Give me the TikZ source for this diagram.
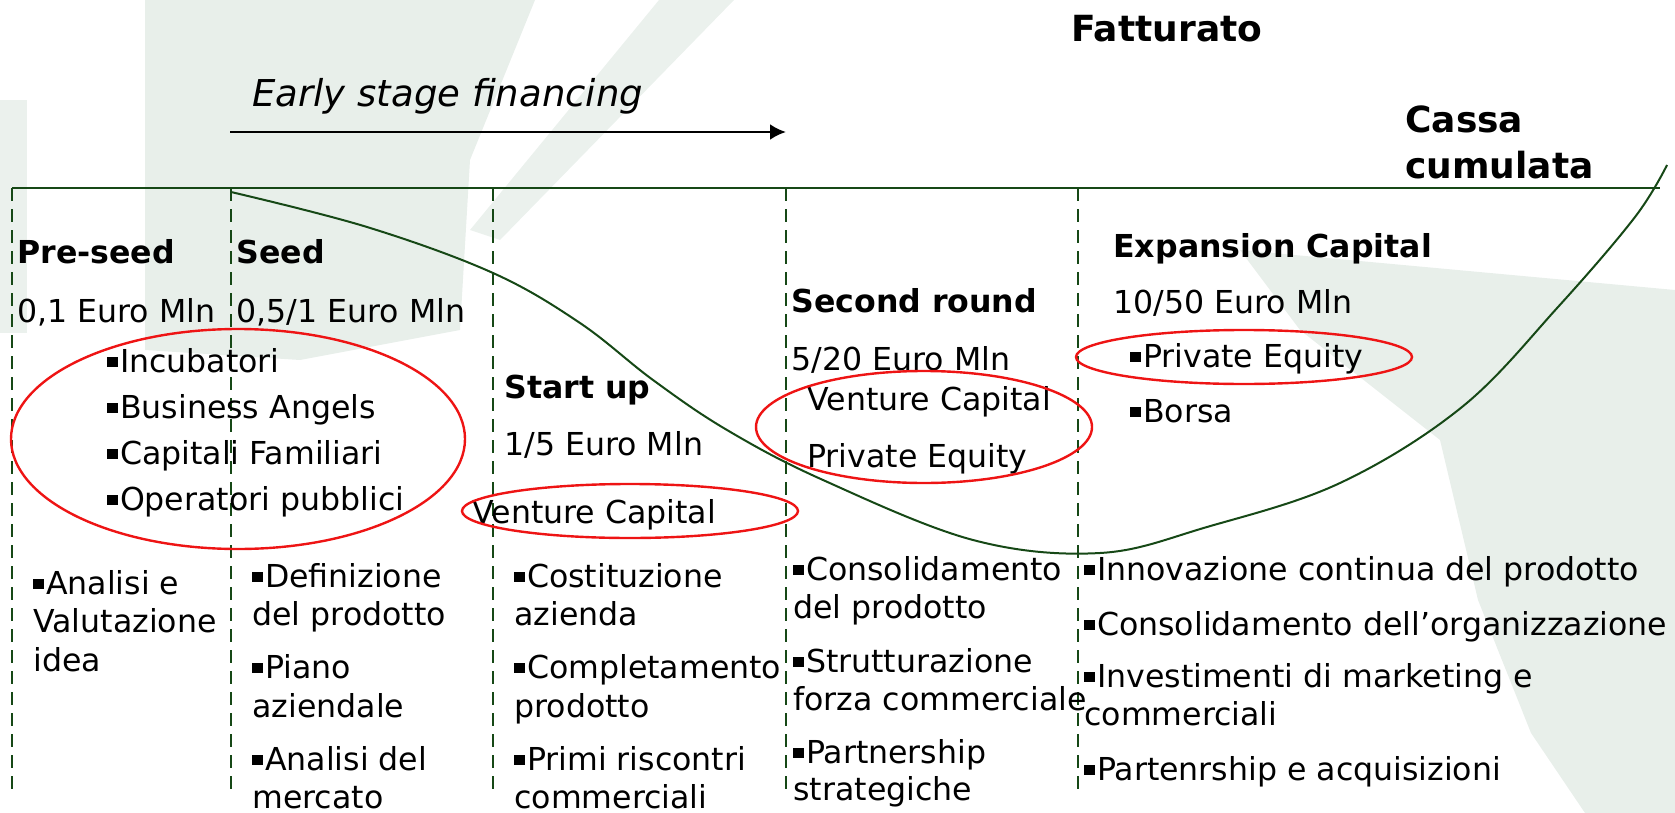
\documentclass[tikz,border=0pt]{standalone}
\usepackage{fontspec}
\setmainfont{DejaVu Sans}
\usepackage{tikz}
\usetikzlibrary{positioning}
\usetikzlibrary{arrows.meta}
\usepackage{xcolor}

\definecolor{cashgreen}{RGB}{22,72,22}
\definecolor{ovalred}{RGB}{238,20,20}
\definecolor{haze}{RGB}{198,214,203}

\newcommand{\sqbul}{\rule[0.16em]{0.32em}{0.32em}\hspace{0.08em}}

\tikzset{
  txt/.style={anchor=base west, inner sep=0pt, font=\fontsize{15.8}{19}\selectfont},
  head/.style={txt, font=\fontsize{15.8}{19}\selectfont\bfseries},
  title/.style={txt, font=\fontsize{18}{22}\selectfont\bfseries},
  oval/.style={draw=ovalred, line width=1.2pt},
  divider/.style={draw=cashgreen, line width=0.9pt, dash pattern=on 6.5pt off 4pt},
}

\begin{document}
\begin{tikzpicture}[x=0.5pt, y=-0.5pt]
  \useasboundingbox (0,0) rectangle (1675,813);

  % faded backdrop
  \fill[haze, opacity=0.4] (145,0) -- (535,0) -- (470,160) -- (460,330) -- (300,360) -- (145,350) -- cycle;
  \fill[haze, opacity=0.35] (659,0) -- (734,0) -- (500,240) -- (470,230) -- cycle;
  \fill[haze, opacity=0.35] (0,100) -- (27,100) -- (27,333) -- (0,333) -- cycle;
  \fill[haze, opacity=0.4] (1240,250) -- (1675,290) -- (1675,813) -- (1585,813) -- (1531,733)
    -- (1478,600) -- (1440,440) -- (1300,330) -- cycle;

  % axis and stage dividers
  \draw[cashgreen, line width=1.4pt] (12,188) -- (1660,188);
  \foreach \x in {12,231,493,786,1078}
    \draw[divider] (\x,188) -- (\x,793);

  % cumulated cash
  \draw[cashgreen, line width=1pt] plot[smooth, tension=0.6] coordinates {
    (231,192) (367,227) (493,273) (580,323) (653,380) (727,430) (823,480)
    (973,540) (1100,553) (1207,527) (1340,483) (1462,407) (1558,307)
    (1635,217) (1667,165)};

  % titles
  \node[title] (fatturato) at (1071,42) {Fatturato};
  \node[title] (cassa) at (1405,133) {Cassa};
  \node[title] (cumulata) at (1405,178) {cumulata};

  % early stage arrow
  \node[txt, font=\fontsize{18.5}{22}\selectfont\itshape] (early) at (252,107) {Early stage financing};
  \coordinate (earlyA) at (230,132);
  \coordinate (earlyB) at (786,132);
  \draw[-{Latex[length=8pt,width=8pt]}, line width=1.4pt] (earlyA) -- (earlyB);

  % stages and amounts
  \node[head] (preseed) at (17,263) {Pre-seed};
  \node[txt] (preamt) at (17,322) {0,1 Euro Mln};
  \node[head] (seed) at (236,263) {Seed};
  \node[txt] (seedamt) at (236,322) {0,5/1 Euro Mln};
  \node[head] (startup) at (504,398) {Start up};
  \node[txt] (startamt) at (504,455) {1/5 Euro Mln};
  \node[head] (second) at (791,312) {Second round};
  \node[txt] (secondamt) at (791,370) {5/20 Euro Mln};
  \node[head] (expansion) at (1113,257) {Expansion Capital};
  \node[txt] (expamt) at (1113,313) {10/50 Euro Mln};

  % investors
  \foreach \y/\txt [count=\i] in {372/Incubatori, 418/Business Angels, 464/Capitali Familiari, 510/Operatori pubblici}
    \node[txt] (inv-\i) at (107,\y) {\sqbul\txt};
  \node[txt] (vcstart) at (472,523) {Venture Capital};
  \node[txt] (vcsecond) at (807,410) {Venture Capital};
  \node[txt] (pesecond) at (807,467) {Private Equity};
  \node[txt] (peexp) at (1130,367) {\sqbul Private Equity};
  \node[txt] (borsa) at (1130,422) {\sqbul Borsa};

  \draw[oval] (238,439) ellipse [x radius=227, y radius=110];
  \draw[oval] (630,511) ellipse [x radius=168, y radius=27];
  \draw[oval] (924,427) ellipse [x radius=168, y radius=56];
  \draw[oval] (1244,357) ellipse [x radius=168, y radius=27];

  % activities per stage
  \foreach \y/\txt [count=\i] in {594/{\sqbul Analisi e}, 632/Valutazione, 671/idea}
    \node[txt] (preact-\i) at (33,\y) {\txt};
  \foreach \y/\txt [count=\i] in {587/{\sqbul Definizione}, 625/del prodotto, 678/{\sqbul Piano},
      717/aziendale, 770/{\sqbul Analisi del}, 808/mercato}
    \node[txt] (seedact-\i) at (252,\y) {\txt};
  \foreach \y/\txt [count=\i] in {587/{\sqbul Costituzione}, 625/azienda, 678/{\sqbul Completamento},
      717/prodotto, 770/{\sqbul Primi riscontri}, 808/commerciali}
    \node[txt] (startact-\i) at (514,\y) {\txt};
  \foreach \y/\txt [count=\i] in {580/{\sqbul Consolidamento}, 618/del prodotto, 672/{\sqbul Strutturazione},
      710/forza commerciale, 763/{\sqbul Partnership}, 800/strategiche}
    \node[txt] (secondact-\i) at (793,\y) {\txt};
  \foreach \y/\txt [count=\i] in {580/{\sqbul Innovazione continua del prodotto},
      635/{\sqbul Consolidamento dell’organizzazione}, 687/{\sqbul Investimenti di marketing e},
      725/commerciali, 780/{\sqbul Partenrship e acquisizioni}}
    \node[txt] (expact-\i) at (1084,\y) {\txt};
\end{tikzpicture}
\end{document}
